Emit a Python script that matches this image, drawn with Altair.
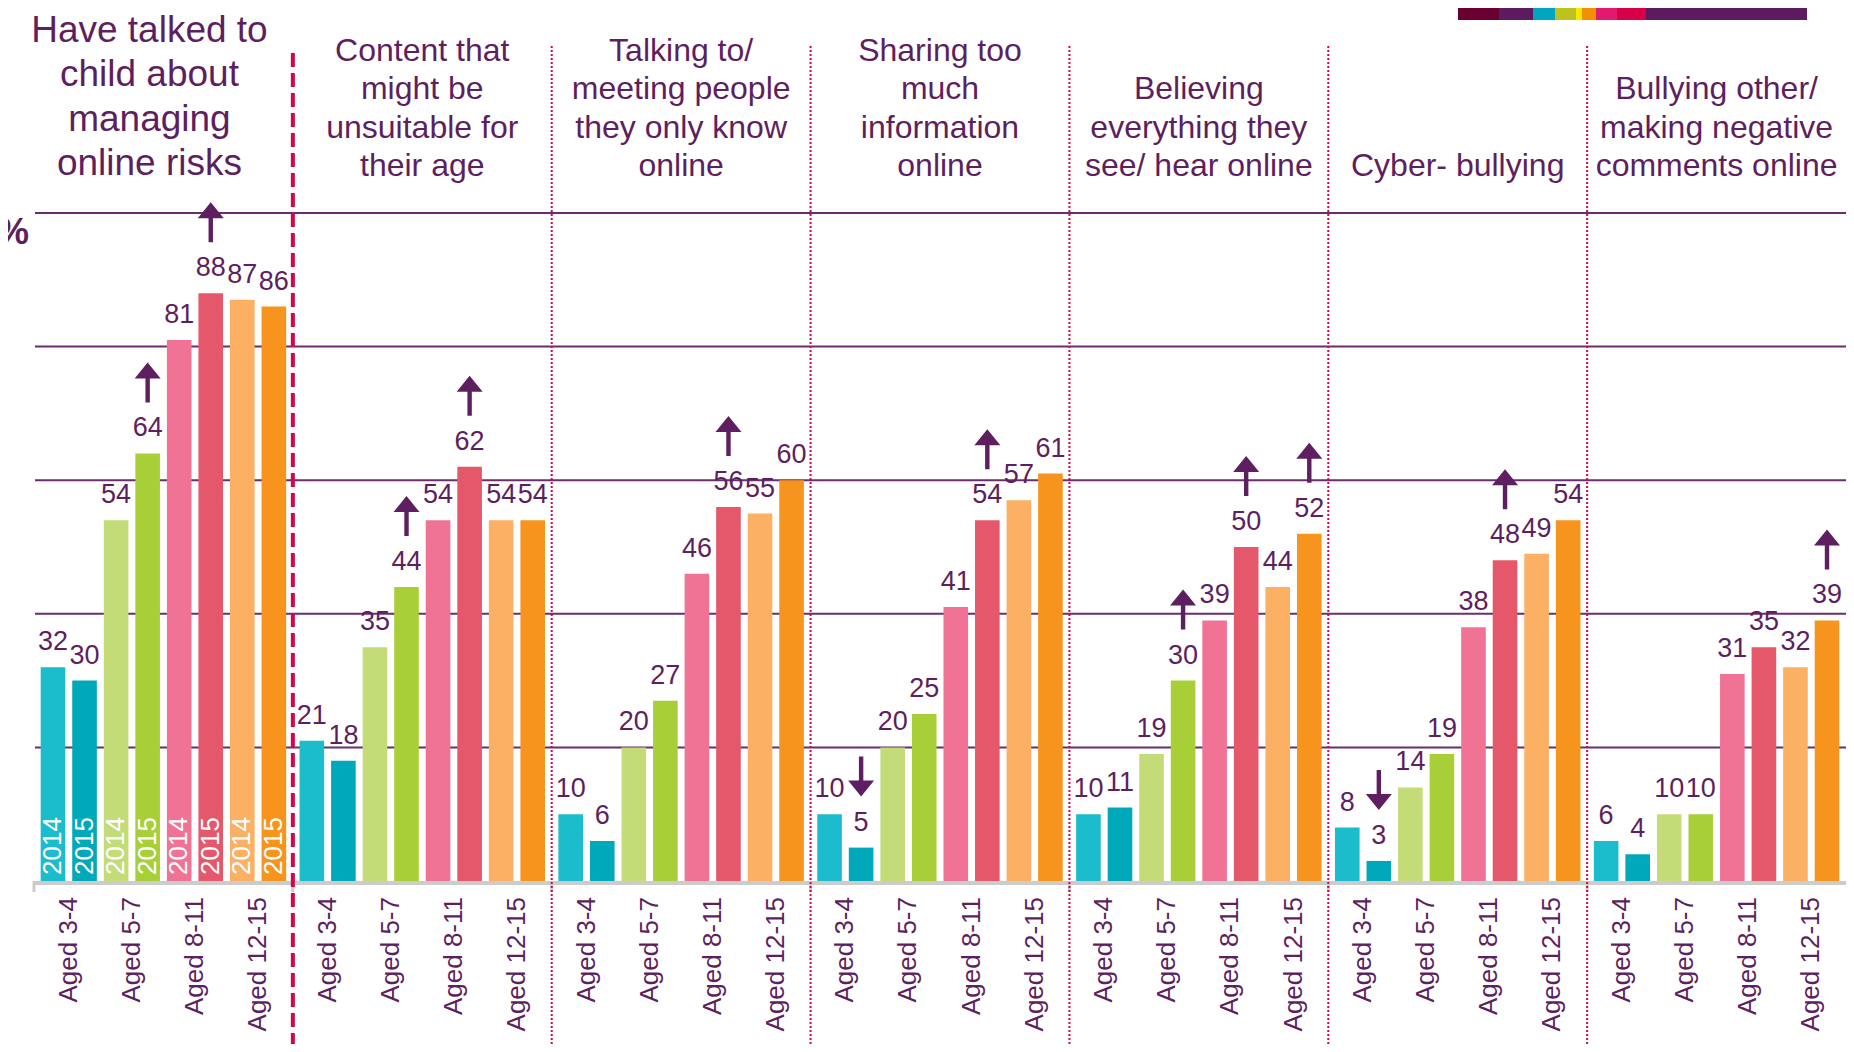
import altair as alt
import pandas as pd

# ---------------- data ----------------
titles = [
    ["Have talked to", "child about", "managing", "online risks"],
    ["Content that", "might be", "unsuitable for", "their age"],
    ["Talking to/", "meeting people", "they only know", "online"],
    ["Sharing too", "much", "information", "online"],
    ["Believing", "everything they", "see/ hear online"],
    ["Cyber- bullying"],
    ["Bullying other/", "making negative", "comments online"],
]
ages = ["Aged 3-4", "Aged 5-7", "Aged 8-11", "Aged 12-15"]
years = ["2014", "2015"]

# values per group, ordered 3-4 (2014, 2015), 5-7 (2014, 2015), 8-11 ..., 12-15 ...
values_g1 = [32, 30, 54, 64, 81, 88, 87, 86]
values_g2 = [21, 18, 35, 44, 54, 62, 54, 54]
values_g3 = [10, 6, 20, 27, 46, 56, 55, 60]
values_g4 = [10, 5, 20, 25, 41, 54, 57, 61]
values_g5 = [10, 11, 19, 30, 39, 50, 44, 52]
values_g6 = [8, 3, 14, 19, 38, 48, 49, 54]
values_g7 = [6, 4, 10, 10, 31, 35, 32, 39]
all_values = [values_g1, values_g2, values_g3, values_g4, values_g5, values_g6, values_g7]

# significant changes 2014 -> 2015 (group index, age, direction)
changes = [
    (0, "Aged 5-7", "up"), (0, "Aged 8-11", "up"),
    (1, "Aged 5-7", "up"), (1, "Aged 8-11", "up"),
    (2, "Aged 8-11", "up"),
    (3, "Aged 3-4", "down"), (3, "Aged 8-11", "up"),
    (4, "Aged 5-7", "up"), (4, "Aged 8-11", "up"), (4, "Aged 12-15", "up"),
    (5, "Aged 3-4", "down"), (5, "Aged 8-11", "up"),
    (6, "Aged 12-15", "up"),
]

bar_colors = ["#1bbccc", "#00a9ba", "#c4dc78", "#a9cf38",
              "#f07396", "#e5586b", "#fbb063", "#f7941e"]

strip_colors = ["#6a0032", "#5c1a5f", "#00a6c0", "#bec21d", "#ffe800",
                "#f29100", "#e3186f", "#d70048", "#5c1a5f"]
strip_widths = [41, 34, 22, 21, 6, 14, 21, 29, 161]

# ---------------- build tables ----------------
group_keys = [" ".join(t) for t in titles]
subs = [f"{a} {y}" for a in ages for y in years]

rows = []
for gi, vals in enumerate(all_values):
    for si, v in enumerate(vals):
        a = ages[si // 2]
        y = years[si % 2]
        rows.append({"group": group_keys[gi], "age": a, "year": y,
                     "sub": f"{a} {y}", "value": v})
df = pd.DataFrame(rows)

chg_rows = []
for gi, a, d in changes:
    v = df[(df.group == group_keys[gi]) & (df.age == a) & (df.year == "2015")].value.iloc[0]
    chg_rows.append({"group": group_keys[gi], "sub": f"{a} 2015", "value": v, "dir": d})
df_chg = pd.DataFrame(chg_rows)

age_df = pd.DataFrame([{"group": g, "age": a, "sub": f"{a} 2014"} for g in group_keys for a in ages])
title_vals = [{"group": group_keys[i], "lines": titles[i]} for i in range(1, len(titles))]
title0_vals = [{"group": group_keys[0], "lines": titles[0]}]
sep_dash = pd.DataFrame({"group": [group_keys[1]]})
sep_dot = pd.DataFrame({"group": group_keys[2:]})
tick_df = pd.DataFrame({"group": group_keys})
grid_df = pd.DataFrame({"v": [20, 40, 60, 80, 100]})

STRIP_X0, STRIP_X1 = 1450, 1799
scale_k = (STRIP_X1 - STRIP_X0) / sum(strip_widths)
starts = []
acc = 0
for w in strip_widths:
    starts.append(acc)
    acc += w
strip_df = pd.DataFrame({"s": [STRIP_X0 + s * scale_k for s in starts],
                         "e": [STRIP_X0 + (s + w) * scale_k for s, w in zip(starts, strip_widths)],
                         "c": strip_colors})

# ---------------- styling ----------------
PURPLE = "#5e1f60"
GRID = "#6b2d6f"
SEP = "#d2064a"
FONT = "Liberation Sans"
W, H = 1838, 1036

xscale = alt.Scale(domain=group_keys, range=[26, 1838], paddingInner=0, paddingOuter=0)
yscale = alt.Scale(domain=[0, 100], range=[873, 205])
xoscale = alt.Scale(domain=subs, paddingInner=0.22, paddingOuter=0.212)


def X(**kw):
    return alt.X("group:N", scale=xscale, axis=None, **kw)


def XO():
    return alt.XOffset("sub:N", scale=xoscale)


def Y():
    return alt.Y("value:Q", scale=yscale, axis=None)


UP = "M0,-1L0.65,-0.2L0.11,-0.2L0.11,1L-0.11,1L-0.11,-0.2L-0.65,-0.2Z"
DOWN = "M0,1L0.65,0.2L0.11,0.2L0.11,-1L-0.11,-1L-0.11,0.2L-0.65,0.2Z"

base = alt.Chart(df)

grid = alt.Chart(grid_df).mark_rule(color=GRID, strokeWidth=2).encode(
    y=alt.Y("v:Q", scale=yscale, axis=None), x=alt.value(27), x2=alt.value(1838))

axis_line = alt.Chart(grid_df).mark_rule(color="#cccccc", strokeWidth=4).encode(
    y=alt.value(875), x=alt.value(26), x2=alt.value(1838))

ticks = alt.Chart(tick_df).mark_rule(color="#cccccc", strokeWidth=3).encode(
    x=X(bandPosition=0), y=alt.value(873), y2=alt.value(884))

bars = base.mark_bar().encode(
    x=X(), xOffset=XO(), y=Y(),
    color=alt.Color("sub:N", scale=alt.Scale(domain=subs, range=bar_colors), legend=None))

vlabels = base.mark_text(baseline="alphabetic", dy=-17, fontSize=27, font=FONT, color=PURPLE).encode(
    x=X(), xOffset=XO(), y=Y(), text="value:Q")

ylabels = alt.Chart(df[df.group == group_keys[0]]).mark_text(
    angle=270, align="left", baseline="middle", dx=6, fontSize=26, font=FONT, color="white").encode(
    x=X(), xOffset=XO(), y=alt.value(873), text="year:N")

# age labels sit between the two bars of each pair (dy is perpendicular to rotated text)
agelabels = alt.Chart(age_df).mark_text(
    angle=270, align="right", baseline="middle", dx=-16, dy=15.8, fontSize=26, font=FONT, color=PURPLE).encode(
    x=X(), xOffset=XO(), y=alt.value(873), text="age:N")

arrows = alt.Chart(df_chg).mark_point(filled=True, opacity=1, size=1600, yOffset=-71,
                                       strokeWidth=0, color=PURPLE).encode(
    x=X(), xOffset=XO(), y=Y(),
    shape=alt.Shape("dir:N", scale=alt.Scale(domain=["up", "down"], range=[UP, DOWN]), legend=None))

sep1 = alt.Chart(sep_dash).mark_rule(color=SEP, strokeWidth=4, strokeDash=[14, 6]).encode(
    x=X(bandPosition=0), y=alt.value(45), y2=alt.value(H))
sep2 = alt.Chart(sep_dot).mark_rule(color=SEP, strokeWidth=2, strokeDash=[2, 2]).encode(
    x=X(bandPosition=0), y=alt.value(38), y2=alt.value(H))

# titles are bottom-aligned: first line is lifted by (number of lines - 1) * line height
gtitles = alt.Chart(alt.Data(values=title_vals)).transform_calculate(
    ty="175 - (length(datum.lines) - 1) * 38.3"
).mark_text(
    align="center", baseline="bottom", fontSize=32, lineHeight=38.3, font=FONT, color=PURPLE).encode(
    x=X(), y=alt.Y("ty:Q", scale=None, axis=None), text="lines:N")

gtitle0 = alt.Chart(alt.Data(values=title0_vals)).transform_calculate(
    ty="175 - (length(datum.lines) - 1) * 44.5"
).mark_text(
    align="center", baseline="bottom", fontSize=37, lineHeight=44.5, dx=-14, font=FONT, color=PURPLE).encode(
    x=X(), y=alt.Y("ty:Q", scale=None, axis=None), text="lines:N")

pct = alt.Chart(pd.DataFrame({"t": ["%"]})).mark_text(
    align="right", baseline="middle", fontSize=36, fontWeight="bold", font=FONT, color=PURPLE).encode(
    x=alt.value(21), y=alt.value(225), text="t:N")

strip = alt.Chart(strip_df).mark_rect().encode(
    x=alt.X("s:Q", scale=None, axis=None), x2="e:Q", y=alt.value(0), y2=alt.value(12),
    color=alt.Color("c:N", scale=None))

chart = alt.layer(
    grid, axis_line, ticks, bars, ylabels, vlabels, agelabels, arrows,
    sep1, sep2, gtitles, gtitle0, pct, strip
).properties(
    width=W, height=H, padding=0, autosize=alt.AutoSizeParams(type="none")
).configure_view(stroke=None)

chart.save("out.html", embed_options={"renderer": "svg", "actions": False})
